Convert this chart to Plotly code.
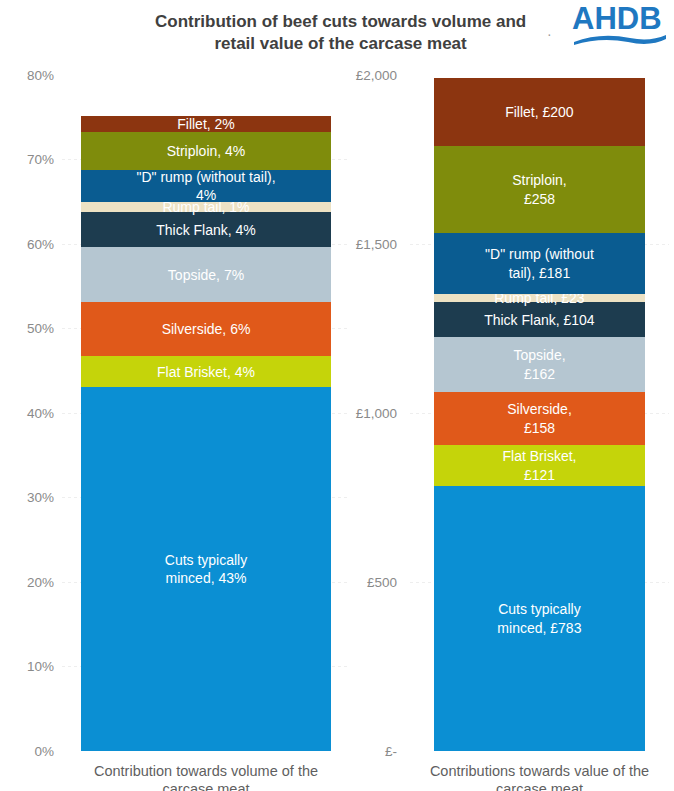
import plotly.graph_objects as go

# Data (bottom to top)
cuts = ["Cuts typically minced", "Flat Brisket", "Silverside", "Topside", "Thick Flank",
        "Rump tail", "\"D\" rump (without tail)", "Striploin", "Fillet"]
volume_pct = [43.1, 3.6, 6.4, 6.6, 4.1, 1.2, 3.8, 4.5, 1.9]
volume_labels = ["Cuts typically<br>minced, 43%", "Flat Brisket, 4%", "Silverside, 6%", "Topside, 7%",
                 "Thick Flank, 4%", "Rump tail, 1%", "\"D\" rump (without tail),<br>4%",
                 "Striploin, 4%", "Fillet, 2%"]
value_gbp = [783, 121, 158, 162, 104, 23, 181, 258, 200]
value_labels = ["Cuts typically<br>minced, £783", "Flat Brisket,<br>£121", "Silverside,<br>£158",
                "Topside,<br>£162", "Thick Flank, £104", "Rump tail, £23",
                "\"D\" rump (without<br>tail), £181", "Striploin,<br>£258", "Fillet, £200"]
colors = ["#0b8fd3", "#c5d40a", "#e0591a", "#b5c6d1", "#1d3c4f",
          "#ede2c4", "#0a5c91", "#7f8c0c", "#8c3510"]

pct_ticks = [0, 10, 20, 30, 40, 50, 60, 70, 80]
pct_ticktext = ["0%", "10%", "20%", "30%", "40%", "50%", "60%", "70%", "80%"]
gbp_ticks = [0, 500, 1000, 1500, 2000]
gbp_ticktext = ["£-", "£500", "£1,000", "£1,500", "£2,000"]
cat_left = "Contribution towards volume of the<br>carcase meat"
cat_right = "Contributions towards value of the<br>carcase meat"

W, H = 674, 791
FONT = "Liberation Sans, Arial, sans-serif"
LBL = 14

fig = go.Figure()
for i, c in enumerate(cuts):
    fig.add_trace(go.Bar(x=[0], y=[volume_pct[i]], width=[250 / 288], marker_color=colors[i],
                         marker_line_width=0, text=[volume_labels[i]], textposition="inside",
                         insidetextanchor="middle", textangle=0, constraintext="none",
                         textfont=dict(color="white", size=LBL, family=FONT),
                         xaxis="x", yaxis="y", showlegend=False, hoverinfo="skip", name=c))
    fig.add_trace(go.Bar(x=[0], y=[value_gbp[i]], width=[211 / 259], marker_color=colors[i],
                         marker_line_width=0, text=[value_labels[i]], textposition="inside",
                         insidetextanchor="middle", textangle=0, constraintext="none",
                         textfont=dict(color="white", size=LBL, family=FONT),
                         xaxis="x2", yaxis="y2", showlegend=False, hoverinfo="skip", name=c))

ybot = (H - 751) / H
ytop = (H - 75) / H
grid = "#eeeeee"
tickfont = dict(size=13.5, color="#8a8a8a", family=FONT)
catfont = dict(size=14.5, color="#5f5f5f", family=FONT)

fig.update_layout(
    width=W, height=H, barmode="stack", bargap=0,
    paper_bgcolor="white", plot_bgcolor="white",
    margin=dict(l=0, r=0, t=0, b=0, autoexpand=False),
    font=dict(family=FONT),
    xaxis=dict(domain=[62 / W, 350 / W], range=[-0.5, 0.5], tickvals=[0], ticktext=[cat_left],
               showgrid=False, zeroline=False, showline=False, ticks="", automargin=False,
               tickfont=catfont, anchor="y", ticklabelstandoff=9),
    yaxis=dict(domain=[ybot, ytop], range=[0, 80], tickvals=pct_ticks, ticktext=pct_ticktext,
               showgrid=True, gridcolor=grid, griddash="dot", zeroline=False, showline=False,
               automargin=False, tickfont=tickfont, anchor="x", ticklabelstandoff=7),
    xaxis2=dict(domain=[410 / W, 669 / W], range=[-0.5, 0.5], tickvals=[0], ticktext=[cat_right],
                showgrid=False, zeroline=False, showline=False, ticks="", automargin=False,
                tickfont=catfont, anchor="y2", ticklabelstandoff=9),
    yaxis2=dict(domain=[ybot, ytop], range=[0, 2000], tickvals=gbp_ticks, ticktext=gbp_ticktext,
                showgrid=True, gridcolor=grid, griddash="dot", zeroline=False, showline=False,
                automargin=False, tickfont=tickfont, anchor="x2", ticklabelstandoff=12),
    annotations=[
        dict(text="<b>Contribution of beef cuts towards volume and<br>retail value of the carcase meat</b>",
             x=340 / W, y=1 - 33 / H, xref="paper", yref="paper", showarrow=False,
             font=dict(size=17, color="#404040", family=FONT), align="center",
             xanchor="center", yanchor="middle"),
        dict(text="<b>AHDB</b>", x=571 / W, y=1 - 18 / H, xref="paper", yref="paper",
             showarrow=False, font=dict(size=31, color="#1f78c1", family=FONT),
             xanchor="left", yanchor="middle", borderpad=0),
        dict(text="·", x=549 / W, y=1 - 34 / H, xref="paper", yref="paper", showarrow=False,
             font=dict(size=14, color="#9a9a9a", family=FONT), xanchor="center", yanchor="middle"),
    ],
    shapes=[
        dict(type="path", xref="paper", yref="paper",
             path=(f"M {574/W} {1-42/H} Q {600/W} {1-32/H} {630/W} {1-38/H} "
                   f"Q {650/W} {1-42/H} {666/W} {1-35/H} L {666/W} {1-39/H} "
                   f"Q {650/W} {1-47/H} {628/W} {1-42/H} Q {600/W} {1-37/H} {574/W} {1-45/H} Z"),
             fillcolor="#1f78c1", line=dict(width=0)),
    ],
)

fig.write_html("out.html", config={"displayModeBar": False},
               post_script="document.body.style.margin='0';document.body.style.overflow='hidden';")
